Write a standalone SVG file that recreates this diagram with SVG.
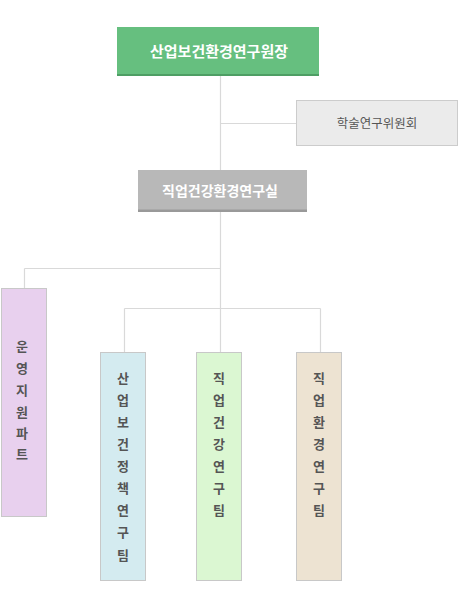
<svg xmlns="http://www.w3.org/2000/svg" width="458" height="600" viewBox="0 0 458 600">
<style>
.ln{stroke:#d9d9d9;stroke-width:1.2;fill:none}
.t{font-family:"Noto Sans CJK KR","Noto Sans",sans-serif;text-anchor:middle}
.w{fill:#ffffff;font-weight:bold;font-size:14px}
.w15{font-size:15px}
.g{fill:#555555;font-size:12.5px}
.v{fill:#555555;font-size:13px;font-weight:bold}
.tm{stroke:#c8c8c8;stroke-width:1}
</style>
<rect width="458" height="600" fill="#ffffff"/>
<g id="connectors">
<path class="ln" d="M220.5 76V170M220.5 123.5H296.5M220.5 211V352M24.5 268.5H220.5M24.5 268.5V288.5M124.5 308.5H320.5M124.5 308.5V352M320.5 308.5V352"/>
</g>
<g id="director">
<rect x="117" y="27" width="202" height="49" fill="#66bf7f"/>
<rect x="117" y="74" width="202" height="2" fill="#4e9e64"/>
<text class="t w w15" x="219" y="56.5">산업보건환경연구원장</text>
</g>
<g id="committee">
<rect x="296.5" y="100.5" width="161" height="45" fill="#ebebeb" stroke="#cccccc"/>
<text class="t g" x="377" y="128">학술연구위원회</text>
</g>
<g id="institute">
<rect x="138" y="170" width="169" height="42" fill="#b8b8b8"/>
<rect x="138" y="209.5" width="169" height="2.5" fill="#999999"/>
<text class="t w" x="220" y="195.5">직업건강환경연구실</text>
</g>
<g id="ops">
<rect class="tm" x="1.5" y="288.5" width="45" height="228" fill="#e8d0ee"/>
<text class="t v" x="22"><tspan x="22" y="351">운</tspan><tspan x="22" y="373">영</tspan><tspan x="22" y="395">지</tspan><tspan x="22" y="417">원</tspan><tspan x="22" y="438">파</tspan><tspan x="22" y="459">트</tspan></text>
</g>
<g id="policy">
<rect class="tm" x="100.5" y="352.5" width="45" height="228" fill="#d4ebf0"/>
<text class="t v" x="123"><tspan x="123" y="383">산</tspan><tspan x="123" y="405">업</tspan><tspan x="123" y="427">보</tspan><tspan x="123" y="449">건</tspan><tspan x="123" y="471">정</tspan><tspan x="123" y="493">책</tspan><tspan x="123" y="515">연</tspan><tspan x="123" y="537">구</tspan><tspan x="123" y="560">팀</tspan></text>
</g>
<g id="health">
<rect class="tm" x="196.5" y="352.5" width="45" height="228" fill="#dbf7d2"/>
<text class="t v" x="219"><tspan x="219" y="383">직</tspan><tspan x="219" y="405">업</tspan><tspan x="219" y="427">건</tspan><tspan x="219" y="449">강</tspan><tspan x="219" y="471">연</tspan><tspan x="219" y="493">구</tspan><tspan x="219" y="515">팀</tspan></text>
</g>
<g id="env">
<rect class="tm" x="296.5" y="352.5" width="45" height="228" fill="#ede3d2"/>
<text class="t v" x="319"><tspan x="319" y="383">직</tspan><tspan x="319" y="405">업</tspan><tspan x="319" y="427">환</tspan><tspan x="319" y="449">경</tspan><tspan x="319" y="471">연</tspan><tspan x="319" y="493">구</tspan><tspan x="319" y="515">팀</tspan></text>
</g>
</svg>
